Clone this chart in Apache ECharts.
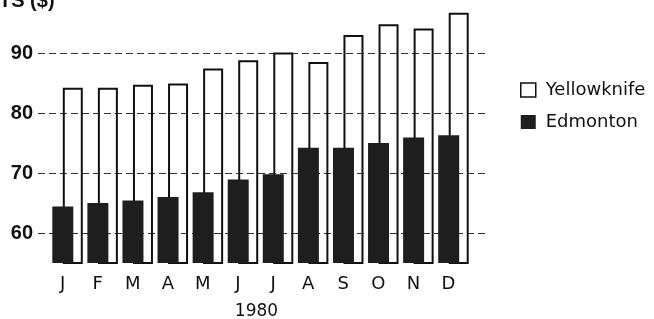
<!DOCTYPE html>
<html>
<head>
<meta charset="utf-8">
<script src="https://cdn.jsdelivr.net/npm/echarts@6/dist/echarts.min.js"></script>
<style>
html, body { margin: 0; padding: 0; background: #fff; }
#chart { width: 654px; height: 319px; }
</style>
</head>
<body>
<div id="chart"></div>
<script>
// months of 1980
const months = ["J", "F", "M", "A", "M", "J", "J", "A", "S", "O", "N", "D"];
// cost values
const yellowknife = [84.2, 84.2, 84.7, 84.9, 87.4, 88.8, 90.1, 88.5, 93.0, 94.8, 94.1, 96.7];
const edmonton = [64.4, 65.0, 65.4, 66.0, 66.8, 68.9, 69.8, 74.2, 74.2, 75.0, 75.9, 76.3];

const font = "DejaVu Sans";

let chart = echarts.init(document.getElementById("chart"));
chart.setOption({
    animation: false,
    graphic: [
        {
            type: "text",
            left: -1,
            top: -9,
            style: {
                text: "TS ($)",
                font: "bold 20px 'Liberation Sans'",
                fill: "#111",
            },
        },
    ],
    legend: {
        orient: "vertical",
        left: 515,
        top: 76,
        itemWidth: 15,
        itemHeight: 14,
        itemGap: 14,
        icon: "rect",
        textStyle: {
            fontFamily: font,
            fontSize: 18,
            color: "#111",
            padding: [0, 0, 0, 5],
        },
        data: [
            {
                name: "Yellowknife",
                itemStyle: { color: "#fff", borderColor: "#111", borderWidth: 1.5 },
            },
            { name: "Edmonton" },
        ],
    },
    grid: [
        // grid for the dashed lines
        { left: 38, right: 169, top: 11, bottom: 56, outerBoundsMode: "none" },
        // grid for the bars
        { left: 50, right: 183, top: 11, bottom: 56, outerBoundsMode: "none" },
    ],
    xAxis: [
        { type: "value", gridIndex: 0, show: false, min: 0, max: 1 },
        {
            type: "category",
            gridIndex: 1,
            data: months,
            axisLine: { show: false },
            axisTick: { show: false },
            axisLabel: {
                margin: 12,
                fontFamily: font,
                fontSize: 18,
                color: "#111",
                padding: [0, 10, 0, 0],
            },
            name: "1980",
            nameLocation: "middle",
            nameGap: 40,
            nameTextStyle: {
                fontFamily: font,
                fontSize: 17,
                color: "#111",
                padding: [0, 8, 0, 0],
            },
        },
    ],
    yAxis: [
        {
            type: "value",
            gridIndex: 0,
            min: 55,
            max: 97,
            splitNumber: 4,
            axisLine: { show: false },
            axisTick: { show: false },
            axisLabel: {
                margin: 5,
                fontFamily: "Liberation Sans",
                fontWeight: "bold",
                fontSize: 20,
                color: "#111",
                formatter: (v) => (v % 10 === 0 ? v : ""),
            },
            splitLine: {
                showMinLine: false,
                showMaxLine: false,
                lineStyle: { color: "#333", width: 1, type: [7, 4] },
            },
        },
        {
            type: "value",
            gridIndex: 1,
            min: 55,
            max: 97,
            show: false,
            splitLine: { show: false },
        },
    ],
    series: [
        {
            name: "Edmonton",
            type: "bar",
            xAxisIndex: 1,
            yAxisIndex: 1,
            barWidth: 21,
            barGap: "-50%",
            z: 3,
            itemStyle: { color: "#1e1e1e" },
            data: edmonton,
        },
        {
            name: "Yellowknife",
            type: "bar",
            xAxisIndex: 1,
            yAxisIndex: 1,
            barWidth: 20,
            barGap: "-50%",
            z: 2,
            itemStyle: {
                color: "rgba(255,255,255,0)",
                borderColor: "#111",
                borderWidth: 2,
            },
            data: yellowknife,
        },
    ],
});
</script>
</body>
</html>
